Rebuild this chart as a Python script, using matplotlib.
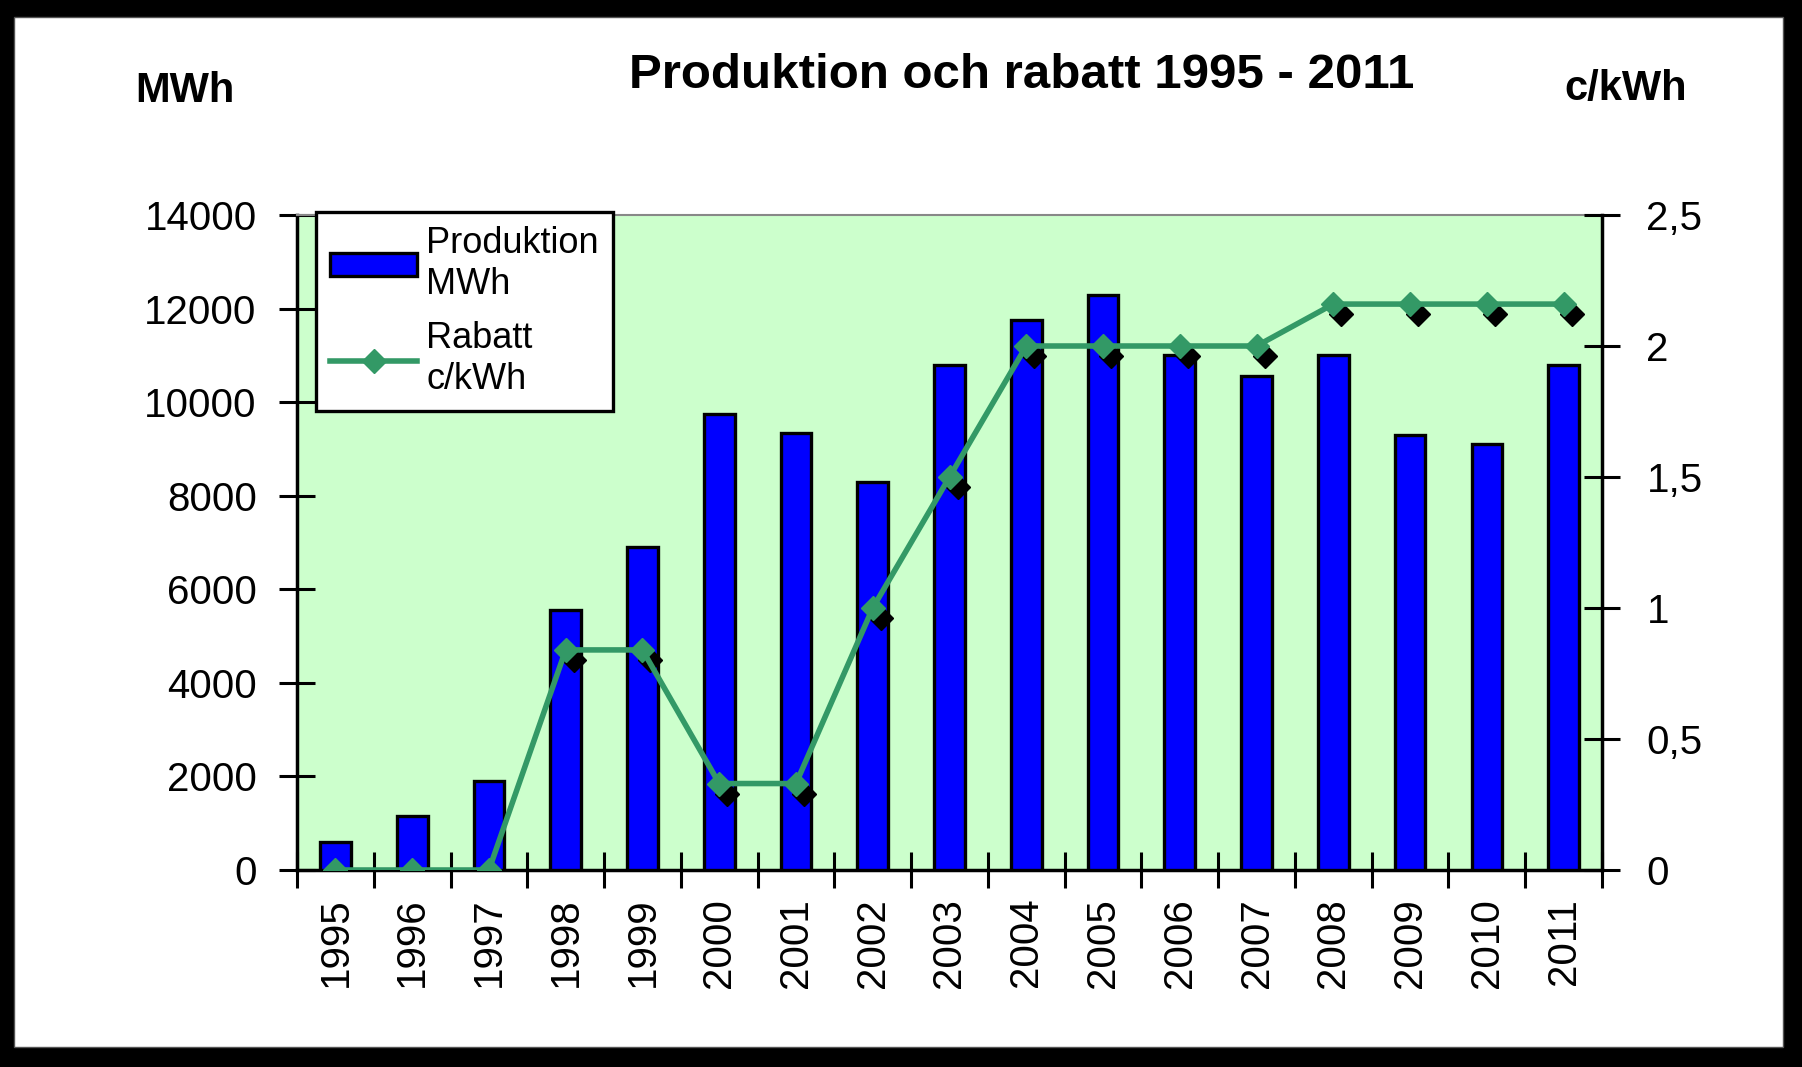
import numpy as np
import matplotlib
matplotlib.use('Agg')
import matplotlib.pyplot as plt
from matplotlib.patches import Rectangle
from matplotlib.transforms import offset_copy
from matplotlib.ticker import FixedLocator

plt.rcParams['font.family'] = ['Liberation Sans', 'DejaVu Sans']

years = ['1995', '1996', '1997', '1998', '1999', '2000', '2001', '2002', '2003',
         '2004', '2005', '2006', '2007', '2008', '2009', '2010', '2011']
produktion = [600, 1150, 1900, 5550, 6900, 9750, 9350, 8300, 10800,
              11750, 12300, 11000, 10550, 11000, 9300, 9100, 10800]
rabatt = [0, 0, 0, 0.84, 0.84, 0.33, 0.33, 1.0, 1.5,
          2.0, 2.0, 2.0, 2.0, 2.16, 2.16, 2.16, 2.16]
left_ticks = [0, 2000, 4000, 6000, 8000, 10000, 12000, 14000]
right_ticks = [0, 0.5, 1, 1.5, 2, 2.5]
right_labels = ['0', '0,5', '1', '1,5', '2', '2,5']

W, H = 1802, 1067
fig = plt.figure(figsize=(W / 100, H / 100), dpi=100, facecolor='black')

# white panel inside the black frame
fig.patches.append(Rectangle((14 / W, 20 / H), (1783 - 14) / W, (1050 - 20) / H,
                             transform=fig.transFigure, facecolor='white',
                             edgecolor='#555555', lw=1, zorder=-10))

ax = fig.add_axes([297 / W, (H - 870) / H, (1602 - 297) / W, (870 - 215) / H])
ax.set_facecolor('#CCFFCC')
x = np.arange(len(years))

bars = ax.bar(x, produktion, width=0.4, color='#0000FF', edgecolor='black',
              lw=2.4, zorder=3, label='Produktion\nMWh')
ax.set_xlim(-0.5, len(years) - 0.5)
ax.set_ylim(0, 14000)
ax.set_yticks(left_ticks)
ax.set_yticklabels([str(v) for v in left_ticks])
ax.set_xticks(x)
ax.set_xticklabels(years, rotation=90)
ax.xaxis.set_minor_locator(FixedLocator(np.arange(-0.5, len(years), 1.0)))
ax.tick_params(axis='x', which='major', length=0, labelsize=29, pad=20)
ax.tick_params(axis='x', which='minor', direction='inout', length=26, width=2.2)
ax.tick_params(axis='y', direction='inout', length=26, width=2.2, labelsize=29, pad=16)

for s in ['left', 'bottom']:
    ax.spines[s].set_linewidth(2.5)
ax.spines['top'].set_color('#888888')
ax.spines['top'].set_linewidth(1.5)
ax.spines['right'].set_visible(False)

ax2 = ax.twinx()
ax2.set_ylim(0, 2.5)
ax2.set_yticks(right_ticks)
ax2.set_yticklabels(right_labels)
ax2.tick_params(axis='y', direction='inout', length=26, width=2.2, labelsize=29, pad=19)
ax2.spines['right'].set_linewidth(2.5)
for s in ['left', 'bottom', 'top']:
    ax2.spines[s].set_visible(False)

# marker shadows
shadow = offset_copy(ax2.transData, fig=fig, x=8, y=-10, units='dots')
ax2.plot(x, rabatt, ls='none', marker='D', ms=12, color='black',
         transform=shadow, zorder=4)
line, = ax2.plot(x, rabatt, color='#339966', lw=4, marker='D', ms=12,
                 zorder=5, label='Rabatt\nc/kWh')

leg = ax2.legend([bars, line], ['Produktion\nMWh', 'Rabatt\nc/kWh'],
                 loc='upper left', bbox_to_anchor=(0.0146, 1.005),
                 borderaxespad=0, fontsize=26, fancybox=False, framealpha=1,
                 edgecolor='black', handlelength=2.4, handleheight=0.6,
                 handletextpad=0.25, labelspacing=0.55, borderpad=0.4)
leg.get_frame().set_linewidth(2.4)
leg.set_zorder(10)

fig.text(1022 / W, 1 - 75 / H, 'Produktion och rabatt 1995 - 2011',
         ha='center', va='center', fontsize=35.5, fontweight='bold')
fig.text(185 / W, 1 - 91 / H, 'MWh', ha='center', va='center',
         fontsize=30, fontweight='bold')
fig.text(1626 / W, 1 - 89 / H, 'c/kWh', ha='center', va='center',
         fontsize=30, fontweight='bold')

fig.savefig('out.png', dpi=100, facecolor=fig.get_facecolor())
